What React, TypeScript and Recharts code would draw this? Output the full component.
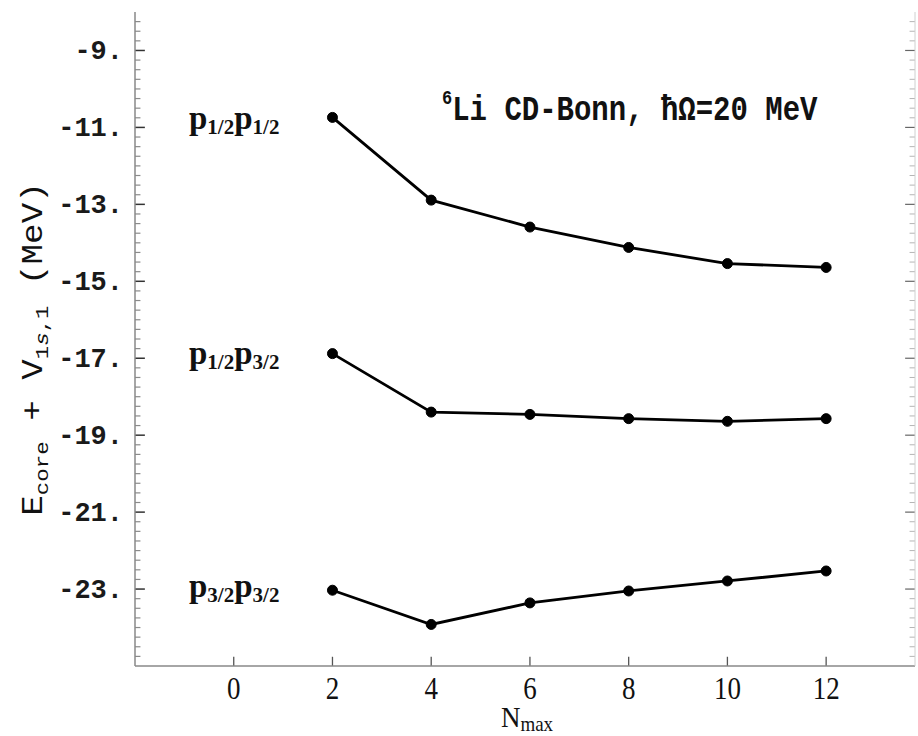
import { LineChart, Line, XAxis, YAxis, ReferenceLine } from "recharts";

// N_max values and the three two-particle configurations (MeV)
const nmax = [2, 4, 6, 8, 10, 12];
const p12p12 = [-10.74, -12.89, -13.59, -14.12, -14.54, -14.64];
const p12p32 = [-16.88, -18.4, -18.46, -18.57, -18.64, -18.57];
const p32p32 = [-23.03, -23.92, -23.36, -23.05, -22.79, -22.53];

const xTicks = [0, 2, 4, 6, 8, 10, 12];
const yMajor = [-9, -11, -13, -15, -17, -19, -21, -23];

// minor frame ticks every 0.25 MeV
const yMinor: number[] = [];
for (let i = 0; i <= 68; i++) {
  const v = -25 + i * 0.25;
  if (!yMajor.includes(v) && v > -25 && v < -8) yMinor.push(v);
}

const X_MIN = -2;
const X_MAX = 13.8;
const Y_MIN = -25;
const Y_MAX = -8;

const data = nmax.map((n, i) => ({ n, a: p12p12[i], b: p12p32[i], c: p32p32[i] }));

const mono = "'Liberation Mono', 'Courier New', monospace";
const serif = "'Liberation Serif', 'Times New Roman', serif";

const XTick = (props: any) => {
  const { x, y, payload } = props;
  return (
    <g transform={`translate(${x},${y + 33}) scale(1,1.15)`}>
      <text x={0} y={0} textAnchor="middle" fontFamily={serif} fontSize={27} fill="#111">
        {payload.value}
      </text>
    </g>
  );
};

const YTickLeft = (props: any) => {
  const { x, y, payload } = props;
  return (
    <text x={x - 12} y={y + 9} textAnchor="end" fontFamily={mono} fontSize={27} fontWeight="bold" fill="#1a1a1a">
      {payload.value + "."}
    </text>
  );
};

const PairLabel = ({ x, y, a, b }: { x: number; y: number; a: string; b: string }) => (
  <text x={x} y={y} fontFamily={serif} fontSize={33} fontWeight={600} fill="#111">
    p<tspan fontSize={21} dy={5}>{a}</tspan>
    <tspan dy={-5}>p</tspan>
    <tspan fontSize={21} dy={5}>{b}</tspan>
  </text>
);

// frame tick marks in data coordinates
const tick = (key: string, p1: { x: number; y: number }, p2: { x: number; y: number }, stroke: string, w: number) => (
  <ReferenceLine key={key} segment={[p1, p2]} stroke={stroke} strokeWidth={w} ifOverflow="visible" />
);

export default function App() {
  return (
    <div style={{ position: "absolute", left: 0, top: 0, width: 918, height: 736, background: "#fff" }}>
      {/* text layer sits underneath the transparent chart surface */}
      <svg width={918} height={736} style={{ position: "absolute", left: 0, top: 0 }}>
        <PairLabel x={189} y={129} a="1/2" b="1/2" />
        <PairLabel x={189} y={364} a="1/2" b="3/2" />
        <PairLabel x={189} y={597} a="3/2" b="3/2" />

        <g transform="translate(442,120) scale(1,1.2)">
          <text x={0} y={0} fontFamily={mono} fontSize={29} fontWeight="bold" fill="#111">
            <tspan fontSize={17} dy={-13}>6</tspan>
            <tspan dy={13}>Li CD-Bonn, ħΩ=20 MeV</tspan>
          </text>
        </g>

        <g transform="translate(527,727) scale(1,1.1)">
          <text x={0} y={0} textAnchor="middle" fontFamily={serif} fontSize={27} fill="#111">
            N<tspan fontSize={19} dy={4}>max</tspan>
          </text>
        </g>

        <g transform="translate(42,349) rotate(-90) scale(1.18,1)">
          <text x={0} y={0} textAnchor="middle" fontFamily={mono} fontSize={29} fill="#111">
            E<tspan fontSize={19} dy={6}>core</tspan>
            <tspan dy={-6}> + V</tspan>
            <tspan fontSize={19} dy={6}>
              1<tspan fontStyle="italic">s</tspan>,1
            </tspan>
            <tspan dy={-6}>{"  (MeV)"}</tspan>
          </text>
        </g>
      </svg>

      <div style={{ position: "absolute", left: 0, top: 0 }}>
        <LineChart width={918} height={736} data={data} margin={{ top: 12, right: 2, bottom: 0, left: 0 }}>
          <XAxis
            dataKey="n"
            type="number"
            domain={[X_MIN, X_MAX]}
            allowDataOverflow
            ticks={xTicks}
            interval={0}
            height={70}
            tickSize={0}
            tickMargin={0}
            axisLine={{ stroke: "#888", strokeWidth: 1.5 }}
            tickLine={false}
            tick={<XTick />}
          />
          <XAxis
            xAxisId="top"
            orientation="top"
            dataKey="n"
            type="number"
            domain={[X_MIN, X_MAX]}
            allowDataOverflow
            height={0}
            tick={false}
            tickLine={false}
            axisLine={{ stroke: "#e2e2e2" }}
          />
          <YAxis
            type="number"
            domain={[Y_MIN, Y_MAX]}
            allowDataOverflow
            ticks={yMajor}
            interval={0}
            width={135}
            tickSize={0}
            tickMargin={0}
            axisLine={{ stroke: "#888", strokeWidth: 1.5 }}
            tickLine={false}
            tick={<YTickLeft />}
          />
          <YAxis
            yAxisId="r"
            orientation="right"
            type="number"
            domain={[Y_MIN, Y_MAX]}
            allowDataOverflow
            width={1}
            tick={false}
            tickLine={false}
            axisLine={{ stroke: "#d0d0d0" }}
          />
          {yMinor.map((v) => tick("lm" + v, { x: X_MIN, y: v }, { x: X_MIN + 0.11, y: v }, "#8a8a8a", 1.2))}
          {yMajor.map((v) => tick("lM" + v, { x: X_MIN, y: v }, { x: X_MIN + 0.2, y: v }, "#333", 1.5))}
          {yMinor.map((v) => tick("rm" + v, { x: X_MAX - 0.11, y: v }, { x: X_MAX, y: v }, "#b5b5b5", 1))}
          {yMajor.map((v) => tick("rM" + v, { x: X_MAX - 0.2, y: v }, { x: X_MAX, y: v }, "#666", 1.2))}
          {xTicks.map((v) => tick("b" + v, { x: v, y: Y_MIN }, { x: v, y: Y_MIN + 0.24 }, "#555", 1.3))}
          {["a", "b", "c"].map((k) => (
            <Line
              key={k}
              dataKey={k}
              type="linear"
              stroke="#000"
              strokeWidth={2.8}
              dot={{ r: 5, fill: "#000", stroke: "#000", strokeWidth: 1 }}
              isAnimationActive={false}
            />
          ))}
        </LineChart>
      </div>
    </div>
  );
}
